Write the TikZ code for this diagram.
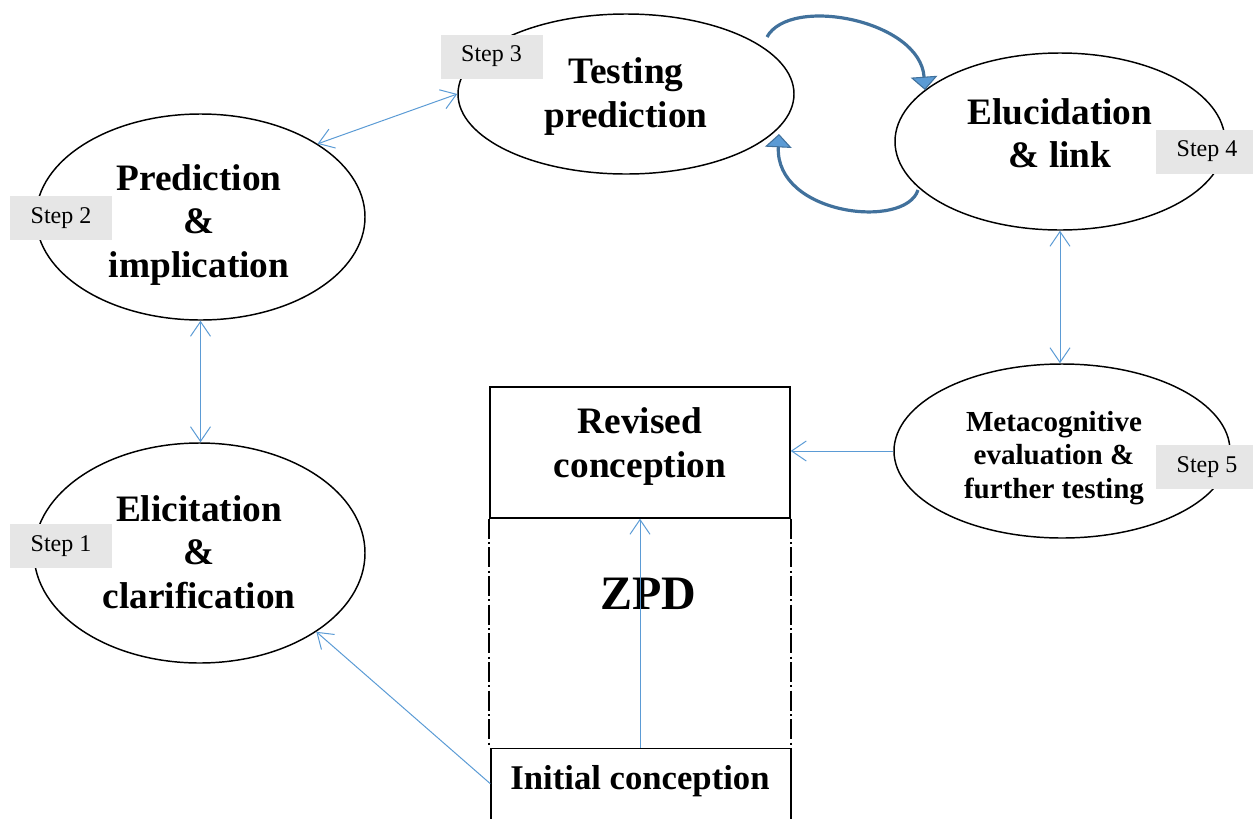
\documentclass[tikz,border=0pt]{standalone}
\usepackage{fontspec}
\setmainfont{Liberation Serif}
\usetikzlibrary{shapes.geometric,arrows.meta,calc}
\definecolor{thinblue}{HTML}{5B9BD5}
\definecolor{steel}{HTML}{41719C}
\definecolor{stepgray}{HTML}{E6E6E6}
\begin{document}
\begin{tikzpicture}[x=0.75pt,y=-0.75pt,
  ell/.style={draw, ellipse, line width=1.1pt, inner sep=0pt},
  bigtext/.style={font=\fontsize{28}{32.5}\selectfont\bfseries, align=center, inner sep=0pt},
  midtext/.style={font=\fontsize{21.8}{25.3}\selectfont\bfseries, align=center, inner sep=0pt},
  boxnode/.style={draw, rectangle, line width=1.1pt, inner sep=0pt, minimum width=225pt},
  zpdline/.style={line width=1.3pt, black, dash pattern=on 15pt off 2.5pt on 1.5pt off 2.5pt},
  stepbox/.style={fill=stepgray, inner sep=0pt, minimum width=76.5pt, minimum height=33pt, font=\fontsize{18}{20}\selectfont},
  barb/.tip={Straight Barb[length=11pt,width=15pt]},
  link/.style={draw=thinblue, line width=0.75pt},
  looparrow/.style={draw=steel, line width=2.4pt, -{Triangle[length=10pt,width=20pt,fill=thinblue,line width=0.8pt]}}
]
\clip (0,0) rectangle (1253,818);

% ellipses
\node[ell, minimum width=246.75pt, minimum height=154.5pt] (e2) at (200.5,217) {};
\node[ell, minimum width=248.25pt, minimum height=165pt] (e1) at (199.5,553) {};
\node[ell, minimum width=252pt, minimum height=120pt] (e3) at (626,94) {};
\node[ell, minimum width=247.5pt, minimum height=132.75pt] (e4) at (1060,141.5) {};
\node[ell, minimum width=252pt, minimum height=130.5pt] (e5) at (1062,451) {};

% texts in ellipses
\node[bigtext] (t2) at (199,225) {Prediction\\\&\\implication};
\node[bigtext] (t1) at (199,552) {Elicitation\\\&\\clarification};
\node[bigtext] (t3) at (626,96.5) {Testing\\prediction};
\node[bigtext] (t4) at (1060,133) {Elucidation\\\& link};
\node[midtext] (t5) at (1054,458) {Metacognitive\\evaluation \&\\further testing};

% ZPD boxes
\node[boxnode, minimum height=98.25pt] (rev) at (640,452.5) {};
\node[bigtext] (trev) at (640,446.5) {Revised\\conception};
\node[boxnode, anchor=north, minimum height=61.5pt] (init) at (641,748) {};
\node[font=\fontsize{26}{30}\selectfont\bfseries, anchor=base, inner sep=0pt] (tinit) at (640,789) {Initial conception};
\node[font=\fontsize{36}{40}\selectfont\bfseries, anchor=base, inner sep=0pt] (zpd) at (648,609) {ZPD};
\draw[zpdline] (rev.south west) -- (rev.south west |- init.north);
\draw[zpdline] (rev.south east) -- (rev.south east |- init.north);

% thin connectors
\draw[link, {barb}-{barb}] (e2.32) -- (e3.west);
\draw[link, {barb}-{barb}] (e2.south) -- (e2.south |- e1.north);
\draw[link, {barb}-{barb}] (e4.south) -- (e4.south |- e5.north);
\draw[link, -{barb}] (e5.west) -- (e5.west -| rev.east);
\coordinate (istart) at ($(init.north west)!0.427!(init.south west)$);
\draw[link, -{barb}] (istart) -- (e1.-34);
\coordinate (iup) at ($(init.north)+(-1,0)$);
\draw[link, -{barb}] (iup) -- (iup |- rev.south);

% curved arrows between step 3 and step 4
\coordinate (c1) at (767,37);
\coordinate (c2) at (925,90);
\draw[looparrow] (c1) .. controls (790,-5) and (920,20) .. (c2);
\coordinate (c3) at (918,190);
\coordinate (c4) at (779,134);
\draw[looparrow] (c3) .. controls (905,230) and (775,215) .. (c4);

% step labels
\node[stepbox] (s3) at (491.5,56.5) {Step 3};
\node[stepbox] (s2) at (61,218) {Step 2};
\node[stepbox] (s1) at (61,546) {Step 1};
\node[stepbox] (s4) at (1207,151.5) {Step 4};
\node[stepbox] (s5) at (1207,467) {Step 5};
\end{tikzpicture}
\end{document}
